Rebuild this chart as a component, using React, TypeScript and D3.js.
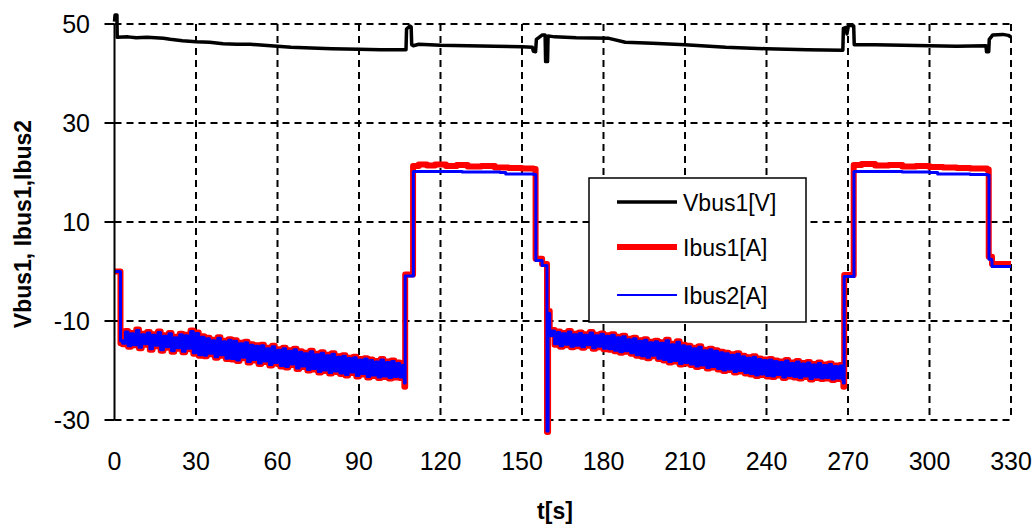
import React from 'react';
import * as d3 from 'd3';

const W = 1036;
const H = 525;

const xTicks = [0, 30, 60, 90, 120, 150, 180, 210, 240, 270, 300, 330];
const yTicks = [50, 30, 10, -10, -30];

const seriesNames = ['Vbus1[V]', 'Ibus1[A]', 'Ibus2[A]'];
const seriesColors = ['#000000', '#ff0000', '#0000ff'];

// Vbus1 [t, V]
const vbus1: [number, number][] = [
  [0, 50.5], [0.2, 51.8], [0.9, 51.8], [1.0, 47.3], [5, 47.4], [8, 47.2], [12, 47.3], [18, 47.1],
  [20.5, 46.9], [25, 46.6], [30, 46.4], [35, 46.3], [40, 46.0], [45, 45.9], [50, 45.9], [55, 45.7],
  [60, 45.5], [65, 45.3], [70, 45.2], [80, 45.0], [90, 44.9], [98, 44.8], [107.3, 44.8],
  [107.5, 49.0], [108.7, 49.6], [109.2, 49.4], [109.4, 45.8], [110, 45.6], [112, 45.9],
  [120, 45.7], [130, 45.6], [140, 45.5], [150, 45.4], [153.8, 45.3], [154.2, 44.5], [155.0, 44.4],
  [155.3, 46.9], [157.5, 47.8], [158.5, 47.8], [158.7, 42.4], [159.4, 42.4], [159.6, 47.6],
  [162, 47.4], [170, 47.2], [182, 47.1], [188, 46.3], [198, 46.1], [210, 45.8], [225, 45.3],
  [240, 45.0], [255, 44.8], [268.1, 44.7], [268.3, 49.1], [269.3, 49.3], [269.6, 48.0],
  [270.2, 49.8], [272.1, 49.6], [272.3, 45.8], [280, 45.8], [290, 45.7], [300, 45.6], [310, 45.5],
  [320.8, 45.6], [321.0, 44.4], [321.8, 44.4], [322.0, 46.9], [323.3, 47.8], [327, 47.9],
  [329, 47.7], [330, 47.4],
];

// Ibus1 key points outside the noisy stretches [t, A]
const ibus1Keys: [number, number][] = [
  [0, 0], [1.8, 0], [2.2, -14.5], [106.7, -23.3], [107.0, -0.6], [109.3, -0.6], [109.9, 21.3],
  [112, 21.6], [115, 21.4], [118, 21.6], [122, 21.3], [126, 21.5], [130, 21.2], [135, 21.3],
  [140, 21.0], [145, 20.9], [150, 20.8], [154.2, 20.7], [155.0, 2.6], [157.2, 2.6], [157.4, 1.5],
  [158.9, 1.5], [159.2, -32.4], [159.6, -8], [160.2, -12.5], [268.3, -23.3], [268.6, -0.7],
  [271.5, -0.7], [272.1, 21.5], [275, 21.7], [280, 21.4], [285, 21.5], [290, 21.2], [295, 21.3],
  [300, 21.1], [305, 21.0], [310, 20.9], [315, 20.8], [321.2, 20.6], [321.8, 3.0], [322.8, 3.0],
  [323.0, 1.5], [330, 1.5],
];

// Ibus2 key points outside the noisy stretches [t, A]
const ibus2Keys: [number, number][] = [
  [0, 0], [1.8, 0], [2.2, -14.0], [106.7, -22.5], [107.0, -0.9], [109.4, -0.9], [110.0, 20.2],
  [120, 20.2], [128, 20.1], [135, 20.1], [142, 20.0], [144, 19.7], [154.3, 19.6], [155.1, 2.2],
  [157.2, 2.2], [157.4, 1.2], [158.9, 1.2], [159.2, -32.2], [159.6, -8.5], [160.2, -13],
  [268.3, -22.5], [268.6, -1.0], [271.6, -1.0], [272.2, 20.2], [290, 20.1], [300, 20.0],
  [303, 19.7], [315, 19.6], [321.2, 19.5], [321.9, 2.5], [322.8, 2.3], [323.0, 1.0], [330, 1.0],
];

// noisy stretch 1: one value per second from t = 3
const seg1Start = 3;
const ibus1Seg1 = [
  -14.7, -12.0, -15.2, -12.4, -14.9, -11.7, -15.5, -12.6, -14.8, -12.2,
  -15.8, -12.7, -15.1, -12.1, -16.0, -12.9, -15.4, -12.4, -16.2, -13.2,
  -15.6, -12.6, -16.3, -12.8, -15.7, -11.9, -16.6, -12.3, -17.0, -13.1,
  -17.1, -13.4, -16.7, -13.8, -17.4, -13.3, -17.0, -14.0, -17.7, -13.7,
  -17.8, -13.9, -18.1, -14.4, -17.5, -14.2, -18.4, -14.7, -18.0, -14.9,
  -18.7, -14.8, -18.3, -15.4, -19.0, -15.0, -18.6, -15.7, -19.2, -15.4,
  -19.4, -15.9, -18.9, -15.6, -19.7, -16.1, -19.3, -16.4, -20.0, -16.0,
  -19.8, -16.6, -20.4, -16.3, -20.1, -16.8, -20.6, -16.5, -20.3, -17.1,
  -20.7, -16.9, -21.0, -17.4, -20.5, -17.2, -21.2, -17.7, -20.8, -17.5,
  -21.4, -17.8, -21.1, -18.1, -21.5, -17.7, -21.3, -18.2, -21.6, -18.0,
  -21.4, -18.4, -21.5, -18.8,
];
const ibus2Seg1 = [
  -14.5, -12.2, -15.0, -12.6, -14.8, -11.9, -15.3, -12.8, -14.6, -12.4,
  -15.6, -12.9, -14.9, -12.3, -15.8, -13.1, -15.2, -12.6, -16.0, -13.4,
  -15.4, -12.8, -16.1, -13.0, -15.5, -12.1, -16.4, -12.5, -16.8, -13.3,
  -16.9, -13.6, -16.5, -14.0, -17.2, -13.5, -16.8, -14.2, -17.5, -13.9,
  -17.6, -14.1, -17.9, -14.6, -17.3, -14.4, -18.2, -14.9, -17.8, -15.1,
  -18.5, -15.0, -18.1, -15.6, -18.8, -15.2, -18.4, -15.9, -19.0, -15.6,
  -19.2, -16.1, -18.7, -15.8, -19.5, -16.3, -19.1, -16.6, -19.8, -16.2,
  -19.6, -16.8, -20.2, -16.5, -19.9, -17.0, -20.4, -16.7, -20.1, -17.3,
  -20.5, -17.1, -20.8, -17.6, -20.3, -17.4, -21.0, -17.9, -20.6, -17.7,
  -21.2, -18.0, -20.9, -18.3, -21.3, -17.9, -21.1, -18.4, -21.4, -18.2,
  -21.2, -18.6, -21.3, -19.0,
];

// noisy stretch 2: one value per second from t = 161
const seg2Start = 161;
const ibus1Seg2 = [
  -11.8, -14.8, -12.1, -15.2, -12.4, -14.9, -12.0, -15.3, -12.6, -15.1,
  -12.3, -15.4, -12.7, -15.0, -12.2, -15.6, -12.8, -15.3, -12.5, -15.7,
  -12.9, -15.8, -12.7, -16.1, -13.2, -16.4, -13.0, -16.2, -13.6, -16.6,
  -13.4, -17.0, -13.9, -17.2, -13.7, -17.5, -14.2, -17.1, -14.0, -17.7,
  -14.3, -18.0, -13.8, -18.4, -14.6, -18.2, -14.1, -18.8, -14.8, -18.6,
  -15.0, -18.9, -15.4, -19.3, -15.1, -19.1, -15.8, -19.6, -15.6, -19.4,
  -15.9, -19.8, -16.2, -20.1, -16.4, -19.9, -16.7, -20.4, -16.5, -20.2,
  -17.0, -20.6, -17.3, -20.8, -17.1, -21.1, -17.6, -20.9, -17.8, -21.2,
  -17.7, -21.3, -18.0, -21.0, -18.2, -21.5, -17.9, -21.2, -18.4, -21.4,
  -18.1, -21.6, -18.5, -21.3, -18.3, -21.8, -18.7, -21.5, -18.4, -21.7,
  -18.8, -21.6, -18.6, -21.9, -19.0, -21.7, -18.9, -22.0,
];
const ibus2Seg2 = [
  -12.0, -14.6, -12.3, -15.0, -12.6, -14.7, -12.2, -15.1, -12.8, -14.9,
  -12.5, -15.2, -12.9, -14.8, -12.4, -15.4, -13.0, -15.1, -12.7, -15.5,
  -13.1, -15.6, -12.9, -15.9, -13.4, -16.2, -13.2, -16.0, -13.8, -16.4,
  -13.6, -16.8, -14.1, -17.0, -13.9, -17.3, -14.4, -16.9, -14.2, -17.5,
  -14.5, -17.8, -14.0, -18.2, -14.8, -18.0, -14.3, -18.6, -15.0, -18.4,
  -15.2, -18.7, -15.6, -19.1, -15.3, -18.9, -16.0, -19.4, -15.8, -19.2,
  -16.1, -19.6, -16.4, -19.9, -16.6, -19.7, -16.9, -20.2, -16.7, -20.0,
  -17.2, -20.4, -17.5, -20.6, -17.3, -20.9, -17.8, -20.7, -18.0, -21.0,
  -17.9, -21.1, -18.2, -20.8, -18.4, -21.3, -18.1, -21.0, -18.6, -21.2,
  -18.3, -21.4, -18.7, -21.1, -18.5, -21.6, -18.9, -21.3, -18.6, -21.5,
  -19.0, -21.4, -18.8, -21.7, -19.2, -21.5, -19.1, -21.8,
];

function build(
  keys: [number, number][],
  a: number[], aStart: number,
  b: number[], bStart: number,
): [number, number][] {
  const pts: [number, number][] = [
    ...keys,
    ...a.map((v, i) => [aStart + i, v] as [number, number]),
    ...b.map((v, i) => [bStart + i, v] as [number, number]),
  ];
  return pts.sort((p, q) => p[0] - q[0]);
}

const FONT = "'Liberation Sans', Arial, sans-serif";

export default function App() {
  const x = d3.scaleLinear().domain([0, 330]).range([114.5, 1011]);
  const y = d3.scaleLinear().domain([-30, 50]).range([420, 24]);
  const line = d3.line<[number, number]>().x((d) => x(d[0])).y((d) => y(d[1]));
  const stepLine = d3
    .line<[number, number]>()
    .x((d) => x(d[0]))
    .y((d) => y(d[1]))
    .curve(d3.curveStepAfter);

  const ibus1 = build(ibus1Keys, ibus1Seg1, seg1Start, ibus1Seg2, seg2Start);
  const ibus2 = build(ibus2Keys, ibus2Seg1, seg1Start, ibus2Seg2, seg2Start);

  const x0 = x(0), x1 = x(330), yTop = y(50), yBot = y(-30);

  const legend = { x: 589, y: 178, w: 217, h: 144 };
  const legendRows = [202, 247, 295];
  const legendWidths = [3.5, 6, 2];

  return (
    <svg width={W} height={H} style={{ position: 'absolute', left: 0, top: 0, background: '#fff' }}>
      <rect x={0} y={0} width={W} height={H} fill="#fff" />
      {/* grid */}
      <g stroke="#000" strokeWidth={2} strokeDasharray="7,5">
        {yTicks.map((t) => (
          <line key={'h' + t} x1={x0} x2={x1} y1={y(t)} y2={y(t)} />
        ))}
        {xTicks.filter((t) => t > 0).map((t) => (
          <line key={'v' + t} x1={x(t)} x2={x(t)} y1={yTop} y2={yBot} />
        ))}
      </g>
      {/* data */}
      <path d={line(vbus1) || ''} fill="none" stroke={seriesColors[0]} strokeWidth={3.5} strokeLinejoin="round" />
      <path d={stepLine(ibus1) || ''} fill="none" stroke={seriesColors[1]} strokeWidth={6} strokeLinejoin="round" />
      <path d={stepLine(ibus2) || ''} fill="none" stroke={seriesColors[2]} strokeWidth={3} strokeLinejoin="round" />
      {/* axis */}
      <line x1={x0} x2={x0} y1={yTop} y2={yBot} stroke="#000" strokeWidth={2} />
      {yTicks.map((t) => (
        <line key={'yt' + t} x1={x0 - 10} x2={x0} y1={y(t)} y2={y(t)} stroke="#000" strokeWidth={2} />
      ))}
      <g fontFamily={FONT} fontSize={25} fill="#000">
        {yTicks.map((t) => (
          <text key={'yl' + t} x={90} y={y(t)} textAnchor="end" dominantBaseline="central">{t}</text>
        ))}
        {xTicks.map((t) => (
          <text key={'xl' + t} x={x(t)} y={461} textAnchor="middle" dominantBaseline="central">{t}</text>
        ))}
      </g>
      <text x={555} y={511} textAnchor="middle" dominantBaseline="central" fontFamily={FONT} fontSize={23} fontWeight="bold">t[s]</text>
      <text transform={`translate(23,224) rotate(-90)`} textAnchor="middle" dominantBaseline="central" fontFamily={FONT} fontSize={23} fontWeight="bold">Vbus1, Ibus1,Ibus2</text>
      {/* legend */}
      <rect x={legend.x} y={legend.y} width={legend.w} height={legend.h} fill="#fff" stroke="#000" strokeWidth={1.5} />
      {seriesNames.map((n, i) => (
        <g key={n}>
          <line x1={617} x2={677} y1={legendRows[i]} y2={legendRows[i]} stroke={seriesColors[i]} strokeWidth={legendWidths[i]} />
          <text x={683} y={legendRows[i] + 1} dominantBaseline="central" fontFamily={FONT} fontSize={23}>{n}</text>
        </g>
      ))}
    </svg>
  );
}
